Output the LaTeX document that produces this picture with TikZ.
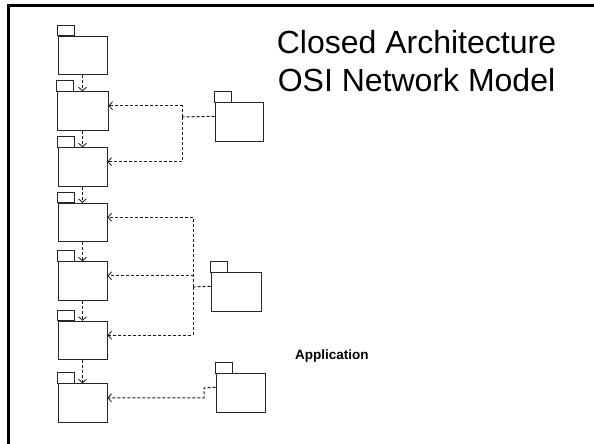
\documentclass[tikz,border=0pt]{standalone}
\usepackage{fontspec}
\setmainfont{Liberation Sans}
\usetikzlibrary{arrows.meta}
\begin{document}
\begin{tikzpicture}[x=1pt,y=-1pt,
  pkg/.style={draw=black!85, line width=1pt, fill=white,
    minimum width=49pt, minimum height=38.5pt, inner sep=0pt,
    append after command={\pgfextra{\draw[draw=black!85, line width=1pt]
      (\tikzlastnode.north west) rectangle ++(17,-10.5);}}},
  dep/.style={draw=black!90, line width=1pt, dash pattern=on 3pt off 2pt},
  deparrow/.style={dep, -{Straight Barb[length=3.5pt,width=8pt,line width=0.8pt]}},
  title/.style={font=\fontsize{32}{39}\selectfont, inner sep=0pt, anchor=base},
]
\useasboundingbox (0,0) rectangle (594,444);
\fill[white] (0,0) rectangle (594,444);

% frame
\draw[line width=2.7pt] (8.5,444) -- (8.5,5.5) -- (594,5.5);

% layer stack
\node[pkg] (L1) at (82.5,55.5) {};
\node[pkg, minimum width=51pt] (L2) at (82.5,111) {};
\node[pkg] (L3) at (82.5,167) {};
\node[pkg] (L4) at (82.5,222.5) {};
\node[pkg] (L5) at (82.5,281) {};
\node[pkg] (L6) at (82.5,340.5) {};
\node[pkg] (L7) at (82.5,403) {};

% grouping packages
\node[pkg, minimum width=48pt] (A) at (239,122) {};
\node[pkg, minimum width=50pt] (B) at (236,292) {};
\node[pkg] (C) at (240.5,393) {};

% ports
\foreach \n in {L2,L3,L4,L5,L6,L7}
  \coordinate (\n-in) at ([yshift=-14.5pt]\n.north east);
\foreach \n in {A,B,C}
  \coordinate (\n-out) at ([yshift=-14pt]\n.north west);
\coordinate (jA) at (182,117);
\coordinate (jB) at (193,287);
\coordinate (jC) at (204,388);

% stack dependencies
\draw[deparrow] (L1) -- (L2);
\draw[deparrow] (L2) -- (L3);
\draw[deparrow] (L3) -- (L4);
\draw[deparrow] (L4) -- (L5);
\draw[deparrow] (L5) -- (L6);
\draw[deparrow] (L6) -- (L7);

% A dependencies
\draw[dep] (A-out) -- (jA);
\draw[deparrow] (jA) |- (L2-in);
\draw[deparrow] (jA) |- (L3-in);

% B dependencies
\draw[dep] (B-out) -- (jB);
\draw[deparrow] (jB) |- (L4-in);
\draw[deparrow] (jB) |- (L5-in);
\draw[deparrow] (jB) |- (L6-in);

% C dependency
\draw[deparrow] (C-out) -- (jC) |- (L7-in);

% texts
\node[title] (t1) at (416.5,53) {Closed Architecture};
\node[title] (t2) at (416.5,92) {OSI Network Model};
\node[font=\bfseries\fontsize{13.5}{16}\selectfont, inner sep=0pt, anchor=base west] (app) at (295,359) {Application};
\end{tikzpicture}
\end{document}
